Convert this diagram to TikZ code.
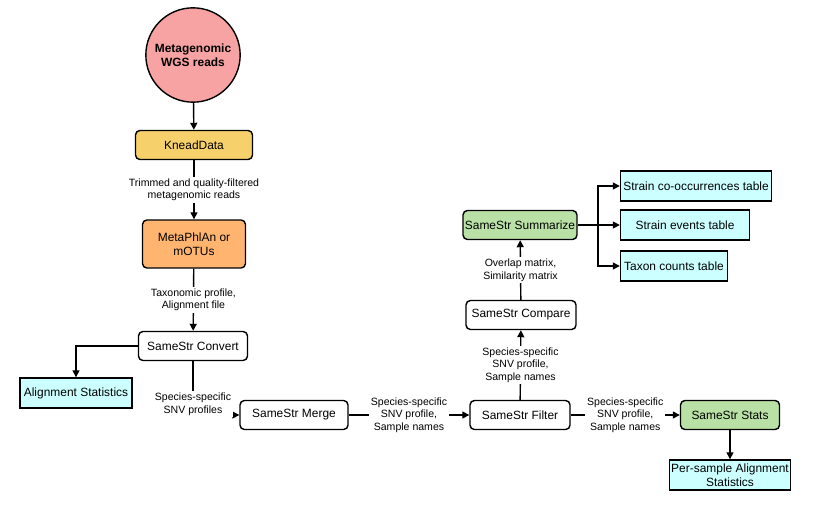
\documentclass[tikz,border=0pt]{standalone}
\usepackage{fontspec}
\setmainfont{Liberation Sans}
\usetikzlibrary{arrows.meta}
\definecolor{readpink}{HTML}{F8A3A3}
\definecolor{kneadyellow}{HTML}{F6D06A}
\definecolor{phlanorange}{HTML}{FFB570}
\definecolor{stagegreen}{HTML}{B9E0A5}
\definecolor{resultcyan}{HTML}{CCFFFF}
\begin{document}
\begin{tikzpicture}[x=0.02cm,y=-0.02cm]

\tikzstyle{stage}=[rectangle, rounded corners=2.5pt, draw, thick, fill=white, minimum height=0.58cm, align=center, font=\fontsize{6.8}{8}\selectfont, inner sep=1pt]
\tikzstyle{resultbox}=[rectangle, draw, thick, fill=resultcyan, minimum height=0.6cm, align=center, font=\fontsize{6.8}{8}\selectfont, inner sep=1pt]
\tikzstyle{edgelabel}=[fill=white, align=center, font=\fontsize{6}{7.2}\selectfont, inner sep=1pt]
\tikzstyle{arrow}=[-{Triangle[length=4pt,width=4pt]}, thick]

\useasboundingbox (0,0) rectangle (827,510);

\node (reads) [circle, draw, thick, fill=readpink, minimum size=1.68cm, align=center, font=\fontsize{6.8}{8}\selectfont\bfseries] at (193,55) {Metagenomic\\WGS reads};
\node (knead) [stage, fill=kneadyellow, minimum width=2.34cm] at (194,145) {KneadData};
\node (phlan) [stage, fill=phlanorange, minimum width=2.06cm, minimum height=0.96cm] at (194,244) {MetaPhlAn or\\mOTUs};
\node (convert) [stage, minimum width=2.18cm] at (193,346) {SameStr Convert};
\node (alnstats) [resultbox, minimum width=2.24cm] at (76,393) {Alignment Statistics};
\node (merge) [stage, minimum width=2.16cm] at (294,415) {SameStr Merge};
\node (filter) [stage, minimum width=2cm] at (520,415) {SameStr Filter};
\node (stats) [stage, fill=stagegreen, minimum width=1.98cm] at (730,415) {SameStr Stats};
\node (persample) [resultbox, minimum width=2.4cm] at (730,475) {Per-sample Alignment\\Statistics};
\node (compare) [stage, minimum width=2.2cm] at (521,315) {SameStr Compare};
\node (summ) [stage, fill=stagegreen, minimum width=2.28cm] at (520,225) {SameStr Summarize};
\node (cooc) [resultbox, minimum width=3.02cm] at (696,186) {Strain co-occurrences table};
\node (events) [resultbox, minimum width=2.58cm] at (685,225) {Strain events table};
\node (taxon) [resultbox, minimum width=2.14cm] at (674,266) {Taxon counts table};
\coordinate (fork) at (598,225);

\draw [arrow] (reads) -- (knead);
\draw [arrow] (knead) -- node[edgelabel] {Trimmed and quality-filtered\\metagenomic reads} (phlan);
\draw [arrow] (phlan) -- node[edgelabel] {Taxonomic profile,\\Alignment file} (convert);
\draw [arrow] (convert.west) -| (alnstats.north);
\draw [arrow] (convert.south) |- node[edgelabel, pos=0.4] {Species-specific\\SNV profiles} (merge.west);
\draw [arrow] (merge) -- node[edgelabel] {Species-specific\\SNV profile,\\Sample names} (filter);
\draw [arrow] (filter) -- node[edgelabel] {Species-specific\\SNV profile,\\Sample names} (stats);
\draw [arrow] (stats) -- (persample);
\draw [arrow] (filter) -- node[edgelabel] {Species-specific\\SNV profile,\\Sample names} (compare);
\draw [arrow] (compare) -- node[edgelabel] {Overlap matrix,\\Similarity matrix} (summ);
\draw [thick] (summ) -- (fork);
\draw [arrow] (fork) |- (cooc.west);
\draw [arrow] (fork) -- (events);
\draw [arrow] (fork) |- (taxon.west);

\end{tikzpicture}
\end{document}
